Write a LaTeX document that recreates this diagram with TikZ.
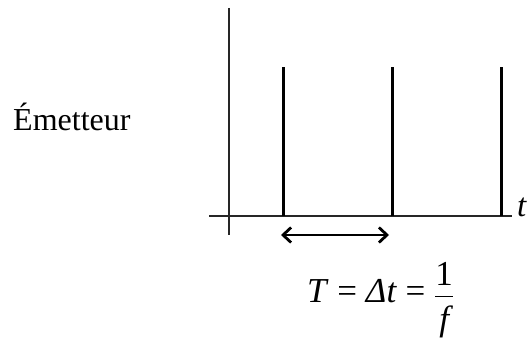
\documentclass[tikz,border=0pt]{standalone}
\usepackage{fontspec}
\setmainfont{Liberation Serif}
\usepackage{tikz}
\usetikzlibrary{positioning, arrows.meta, calc}

\begin{document}
\begin{tikzpicture}[x=1pt, y=-1pt,
    axis/.style={line width=1.4pt, draw=black!85},
    pulse/.style={line width=3pt},
    period/.style={line width=2.8pt, {Straight Barb[length=8pt, width=15pt]}-{Straight Barb[length=8pt, width=15pt]}}]
  \useasboundingbox (0,0) rectangle (529,342);

  % axes
  \coordinate (xstart) at (209,216);
  \coordinate (xend) at (512,216);
  \coordinate (ytop) at (229,8);
  \coordinate (ybot) at (229,235);
  \draw[axis] (xstart) -- (xend);
  \draw[axis] (ytop) -- (ybot);
  \node[anchor=base west, inner sep=0pt, font=\fontsize{33}{36}\selectfont\itshape] (tlabel) at (517,216) {t};

  % pulses
  \foreach \x/\name in {283/one, 392/two, 501/three} {
    \coordinate (\name base) at (\x,216);
    \coordinate (\name top) at (\x,67);
    \draw[pulse] (\name base) -- (\name top);
  }

  % period
  \coordinate (pstart) at (281,235);
  \coordinate (pend) at (389,235);
  \draw[period] (pstart) -- (pend);

  \node[anchor=base west, inner sep=0pt, font=\fontsize{32}{36}\selectfont] (emitter) at (13,130) {Émetteur};
  \node[anchor=base west, inner sep=0pt, font=\fontsize{35}{40}\selectfont] (formula) at (307,302)
    {\textit{T} = \textit{Δt} = $\displaystyle\frac{\mbox{1}}{\mbox{\rule{0pt}{0.95em}\itshape f}}$};
\end{tikzpicture}
\end{document}
